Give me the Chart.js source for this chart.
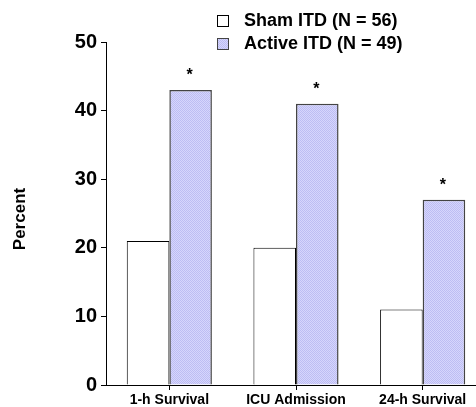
<!DOCTYPE html>
<html>
<head>
<meta charset="utf-8">
<script src="https://cdn.jsdelivr.net/npm/chart.js@4.4.1/dist/chart.umd.min.js"></script>
<style>
  html, body { margin: 0; padding: 0; background: #fff; overflow: hidden; }
  #wrap { position: relative; width: 500px; height: 407px; }
</style>
</head>
<body>
<div id="wrap"><canvas id="chart" width="500" height="407"></canvas></div>
<script>
// Outcome categories and percentages per group
const categories = ['1-h Survival', 'ICU Admission', '24-h Survival'];
const shamValues = [21, 20, 11];
const activeValues = [43, 41, 27];
const seriesLabels = ['Sham ITD (N = 56)', 'Active ITD (N = 49)'];
const significant = [true, true, true];   // marked with * above the active bar
const yTicks = [0, 10, 20, 30, 40, 50];
const axisTitle = 'Percent';

const FONT = 'Arial, "Liberation Sans", sans-serif';

// Fine lavender checker texture used for the active group
function makeHatch() {
  const c = document.createElement('canvas');
  c.width = 2; c.height = 2;
  const g = c.getContext('2d');
  g.fillStyle = '#bdbdf3';
  g.fillRect(0, 0, 1, 1); g.fillRect(1, 1, 1, 1);
  g.fillStyle = '#d6d6fc';
  g.fillRect(1, 0, 1, 1); g.fillRect(0, 1, 1, 1);
  return g.createPattern(c, 'repeat');
}
const ctx = document.getElementById('chart').getContext('2d');
const hatch = makeHatch();

// Legend, asterisks and rotated axis title
const extras = {
  id: 'extras',
  afterDatasetsDraw(chart) {
    const c = chart.ctx;
    c.save();
    // legend
    const items = [
      { label: seriesLabels[0], fill: '#ffffff', stroke: '#000000', y: 15 },
      { label: seriesLabels[1], fill: hatch, stroke: '#444444', y: 38 }
    ];
    items.forEach(it => {
      c.fillStyle = it.fill;
      c.fillRect(217, it.y, 12, 12);
      c.strokeStyle = it.stroke;
      c.lineWidth = 1;
      c.strokeRect(217.5, it.y + 0.5, 11, 11);
      c.fillStyle = '#000';
      c.font = 'bold 18px ' + FONT;
      c.textAlign = 'left';
      c.textBaseline = 'middle';
      c.fillText(it.label, 244, it.y + 6.5);
    });
    // significance markers
    const meta = chart.getDatasetMeta(1);
    c.font = 'bold 16px ' + FONT;
    c.textAlign = 'center';
    c.textBaseline = 'alphabetic';
    meta.data.forEach((bar, i) => {
      if (significant[i]) c.fillText('*', bar.x - 1, bar.y - 10);
    });
    // axis title
    c.translate(20, 219);
    c.rotate(-Math.PI / 2);
    c.font = 'bold 17px ' + FONT;
    c.textAlign = 'center';
    c.textBaseline = 'middle';
    c.fillText(axisTitle, 0, 0);
    c.restore();
  }
};

new Chart(ctx, {
  type: 'bar',
  data: {
    labels: categories,
    datasets: [
      {
        label: seriesLabels[0],
        data: shamValues,
        backgroundColor: '#ffffff',
        borderColor: '#000000',
        borderWidth: 1,
        borderSkipped: 'bottom'
      },
      {
        label: seriesLabels[1],
        data: activeValues,
        backgroundColor: hatch,
        borderColor: '#444444',
        borderWidth: 1.5,
        borderSkipped: 'bottom'
      }
    ]
  },
  options: {
    responsive: false,
    animation: false,
    devicePixelRatio: 1,
    layout: { padding: { top: 42, right: 14, left: 0, bottom: 0 } },
    datasets: { bar: { barPercentage: 1, categoryPercentage: 0.672 } },
    plugins: { legend: { display: false }, tooltip: { enabled: false } },
    scales: {
      x: {
        offset: true,
        grid: { display: true, drawOnChartArea: false, offset: false, tickLength: 5, color: '#000' },
        border: { display: true, color: '#000', width: 1 },
        ticks: { color: '#000', padding: 2, font: { family: FONT, size: 14, weight: 'bold' } },
        afterFit(s) { s.height = 22; }
      },
      y: {
        min: 0, max: 50,
        afterBuildTicks(s) { s.ticks = yTicks.map(v => ({ value: v })); },
        grid: { display: true, drawOnChartArea: false, tickLength: 5, color: '#000' },
        border: { display: true, color: '#000', width: 1 },
        ticks: { color: '#000', padding: 4, font: { family: FONT, size: 20, weight: 'bold' } },
        afterFit(s) { s.width = 106; }
      }
    }
  },
  plugins: [extras]
});
</script>
</body>
</html>
